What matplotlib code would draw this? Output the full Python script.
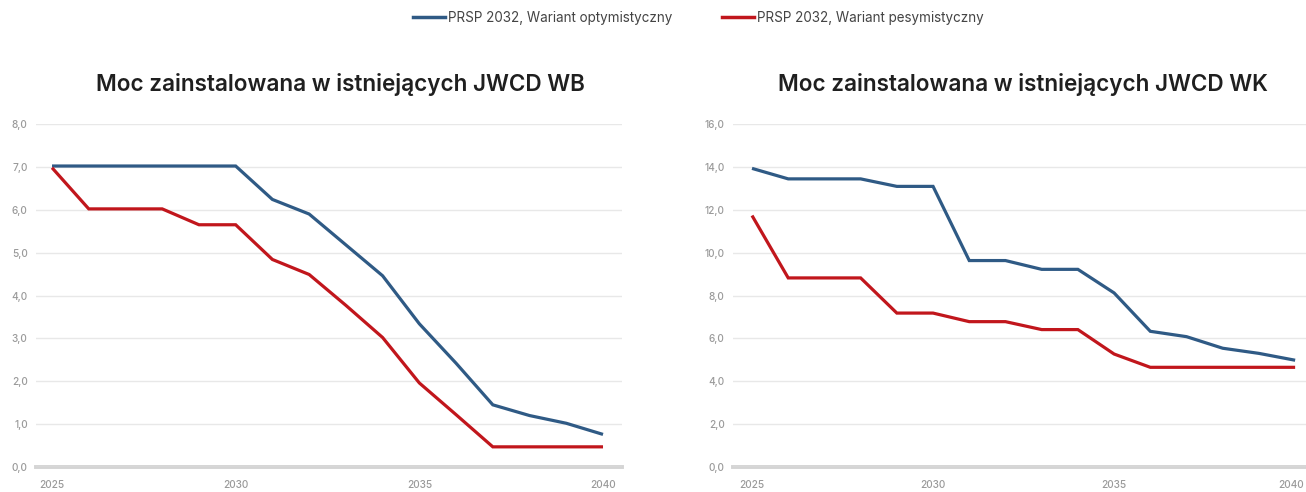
import matplotlib
matplotlib.use("Agg")
import matplotlib.pyplot as plt
from matplotlib.lines import Line2D
from matplotlib.transforms import ScaledTranslation

years = list(range(2025, 2041))

wb_opt = [7.02, 7.02, 7.02, 7.02, 7.02, 7.02, 6.24, 5.90, 5.18, 4.46, 3.34, 2.42, 1.45, 1.20, 1.02, 0.76]
wb_pes = [6.98, 6.02, 6.02, 6.02, 5.65, 5.65, 4.84, 4.49, 3.77, 3.02, 1.96, 1.22, 0.47, 0.47, 0.47, 0.47]

wk_opt = [13.93, 13.44, 13.44, 13.44, 13.09, 13.09, 9.63, 9.63, 9.22, 9.22, 8.12, 6.33, 6.08, 5.54, 5.30, 4.98]
wk_pes = [11.73, 8.82, 8.82, 8.82, 7.18, 7.18, 6.78, 6.78, 6.41, 6.41, 5.27, 4.65, 4.65, 4.65, 4.65, 4.65]

series_labels = ["PRSP 2032, Wariant optymistyczny", "PRSP 2032, Wariant pesymistyczny"]
titles = ["Moc zainstalowana w istniejących JWCD WB", "Moc zainstalowana w istniejących JWCD WK"]
x_ticks = [2025, 2030, 2035, 2040]
wb_yticks = [0, 1, 2, 3, 4, 5, 6, 7, 8]
wk_yticks = [0, 2, 4, 6, 8, 10, 12, 14, 16]

BLUE = "#2F5A85"
RED = "#C1161C"
W, H = 1306, 492

fig = plt.figure(figsize=(W / 100, H / 100), dpi=100)
fig.patch.set_facecolor("white")


def fx(px):
    return px / W


def fy(py):
    return 1 - py / H


def make_axes(x0, x1, xlim, yticks, opt, pes, title, title_cx, last_shift=0):
    ax = fig.add_axes([fx(x0), fy(467), fx(x1 - x0), (467 - 124) / H])
    ax.set_xlim(*xlim)
    ax.set_ylim(0, yticks[-1])
    ax.set_yticks(yticks)
    ax.set_yticklabels([f"{v:.1f}".replace(".", ",") for v in yticks])
    ax.set_xticks(x_ticks)
    ax.set_xticklabels([str(v) for v in x_ticks])
    for s in ax.spines.values():
        s.set_visible(False)
    ax.grid(axis="y", color="#e8e8e8", linewidth=1.0)
    ax.grid(axis="x", visible=False)
    ax.tick_params(axis="both", length=0, labelsize=7.3, labelcolor="#9a9a9a")
    ax.tick_params(axis="y", pad=6)
    ax.tick_params(axis="x", pad=9)
    for lab in ax.get_xticklabels() + ax.get_yticklabels():
        lab.set_fontfamily("Inter")
        lab.set_fontweight("medium")
    if last_shift:
        lab = ax.get_xticklabels()[-1]
        lab.set_transform(lab.get_transform() + ScaledTranslation(last_shift / 100, 0, fig.dpi_scale_trans))
    ax.axhline(0, color="#d4d4d4", linewidth=2.8, zorder=1, clip_on=False)
    ax.plot(years, opt, color=BLUE, linewidth=2.3, zorder=3, clip_on=False,
            solid_joinstyle="miter", solid_capstyle="butt")
    ax.plot(years, pes, color=RED, linewidth=2.3, zorder=3, clip_on=False,
            solid_joinstyle="miter", solid_capstyle="butt")
    fig.text(fx(title_cx), fy(85), title, ha="center", va="center",
             fontsize=16.2, fontweight="semibold", family="Inter", color="#1f1f1f")
    return ax


make_axes(36, 622, (2024.564, 2040.517), wb_yticks, wb_opt, wb_pes, titles[0], 340)
make_axes(733, 1306, (2024.475, 2040.30), wk_yticks, wk_opt, wk_pes, titles[1], 1023, last_shift=-4)

handles = [Line2D([], [], color=BLUE, linewidth=2.5),
           Line2D([], [], color=RED, linewidth=2.5)]
fig.legend(handles, series_labels, loc="center", bbox_to_anchor=(fx(698.5), fy(18)),
           ncol=2, frameon=False, handlelength=2.38, handletextpad=0.22,
           columnspacing=3.7, prop={"family": "Inter", "size": 9.7},
           labelcolor="#444444", borderpad=0, borderaxespad=0)

fig.savefig("out.png", dpi=100, facecolor="white")
